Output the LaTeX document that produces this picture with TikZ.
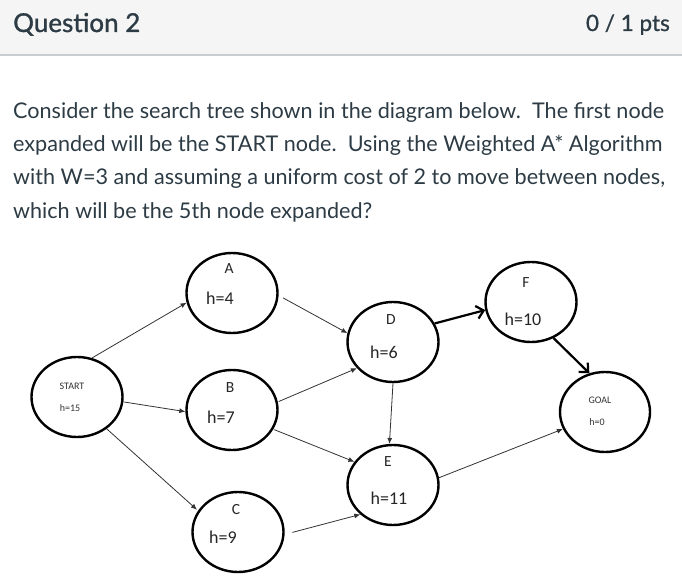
\documentclass[tikz,border=0pt]{standalone}
\usepackage{fontspec}
\setmainfont{Lato}
\newfontfamily\diag{Carlito}
\usetikzlibrary{shapes.geometric,arrows.meta}
\definecolor{ink}{HTML}{2D3B45}
\definecolor{hdrbg}{HTML}{F5F5F5}
\definecolor{rulegray}{HTML}{C7CDD1}
\definecolor{edgegray}{HTML}{333333}
\begin{document}
\begin{tikzpicture}[x=1pt,y=-1pt,
  ell/.style={draw=black,line width=2.4pt,ellipse,minimum width=91pt,minimum height=80pt,inner sep=0pt},
  big/.style={font=\diag\fontsize{18}{18}\selectfont,inner sep=0pt,text=black!85},
  mid/.style={font=\diag\fontsize{15.5}{15.5}\selectfont,inner sep=0pt,text=black!85},
  tiny/.style={font=\diag\fontsize{10}{10}\selectfont,inner sep=0pt,text=black!80},
  thin/.style={draw=edgegray,line width=0.8pt,-{Latex[length=6pt,width=5pt]}},
  thick/.style={draw=black,line width=2.2pt,-{Straight Barb[length=7pt,width=13pt]}},
  body/.style={font=\fontsize{21.6}{21.6}\selectfont,text=ink,anchor=base west,inner sep=0pt}
]
\useasboundingbox (0,0) rectangle (682,588);
\fill[white] (0,0) rectangle (682,588);
\fill[hdrbg] (0,0) rectangle (682,55);
\draw[rulegray,line width=1.2pt] (0,55) -- (682,55);
\node[font=\fontsize{26}{26}\selectfont\addfontfeature{FakeBold=1.2},text=ink,anchor=base west,inner sep=0pt] (qt) at (13,32) {Question 2};
\node[font=\fontsize{22.5}{22.5}\selectfont\addfontfeature{FakeBold=0.8},text=ink,anchor=base east,inner sep=0pt] (pts) at (670,31) {0 / 1 pts};

\node[body] (l1) at (13,119) {Consider the search tree shown in the diagram below.\ \ The first node};
\node[body] (l2) at (13,152) {expanded will be the START node.\ \ Using the Weighted A* Algorithm};
\node[body] (l3) at (13,185) {with W=3 and assuming a uniform cost of 2 to move between nodes,};
\node[body] (l4) at (13,218) {which will be the 5th node expanded?};

% ellipses
\node[ell] (S) at (77,397) {};
\node[ell] (A) at (232,293) {};
\node[ell] (B) at (232,410) {};
\node[ell] (C) at (238,532) {};
\node[ell] (D) at (393,342) {};
\node[ell] (E) at (393,485) {};
\node[ell] (F) at (531,302) {};
\node[ell,minimum width=90pt] (G) at (605,412) {};

% labels
\node[tiny] (St) at (72,386) {START};
\node[tiny] (Sh) at (70,408) {h=15};
\node[mid] (At) at (229,269) {A};
\node[big] (Ah) at (220,298) {h=4};
\node[mid] (Bt) at (230,388) {B};
\node[big] (Bh) at (221,417) {h=7};
\node[mid] (Ct) at (236,510) {C};
\node[big] (Ch) at (223,537) {h=9};
\node[mid] (Dt) at (391,320) {D};
\node[big] (Dh) at (384,352) {h=6};
\node[mid] (Et) at (388,462) {E};
\node[big] (Eh) at (389,498) {h=11};
\node[mid] (Ft) at (526,283) {F};
\node[big] (Fh) at (523,319) {h=10};
\node[tiny] (Gt) at (600,400) {GOAL};
\node[tiny] (Gh) at (597,422) {h=0};

% edges
\draw[thin] (S.69) -- (A.192);
\draw[thin] (S.-6) -- (B.182);
\draw[thin] (S.-47) -- ([xshift=-1pt,yshift=1pt]C.152);
\draw[thin,shorten <=5pt] (A.-3) -- (D.169);
\draw[thin,shorten <=1pt] (B.10) -- (D.216);
\draw[thin,shorten <=1pt] (B.-25) -- (E.149);
\draw[thin,shorten <=8pt] (C.-3) -- (E.222);
\draw[thin] (D.-90) -- (E.95);
\draw[thin] (E.9) -- (G.202);
\draw[thick] (D.24) -- (F.190);
\draw[thick] (F.-58) -- (G.112);
\end{tikzpicture}
\end{document}
